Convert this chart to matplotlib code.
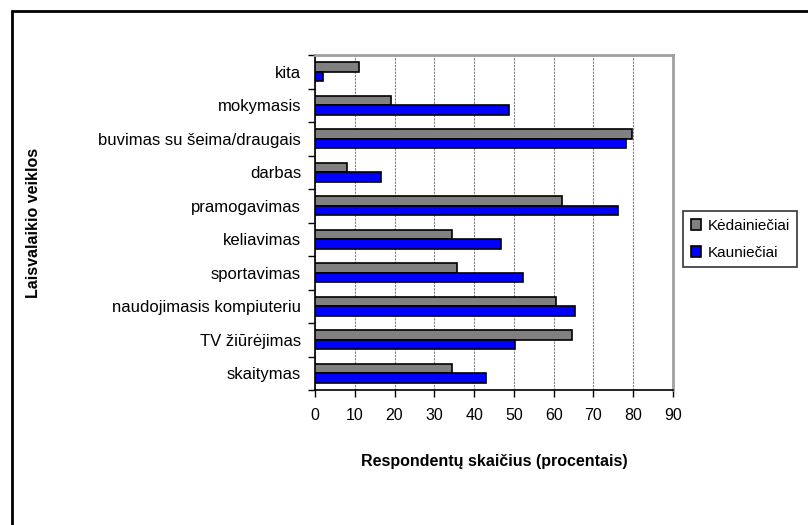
import numpy as np
import matplotlib
matplotlib.use('Agg')
import matplotlib.pyplot as plt
from matplotlib.patches import Rectangle

plt.rcParams['font.family'] = ['Liberation Sans', 'DejaVu Sans']

categories = ['kita', 'mokymasis', 'buvimas su šeima/draugais', 'darbas', 'pramogavimas',
              'keliavimas', 'sportavimas', 'naudojimasis kompiuteriu', 'TV žiūrėjimas', 'skaitymas']
kedainieciai = [11.1, 19.2, 79.8, 8.1, 62.0, 34.5, 35.7, 60.5, 64.6, 34.5]
kaunieciai = [2.0, 48.7, 78.3, 16.7, 76.2, 46.7, 52.3, 65.3, 50.3, 43.0]
xticks = list(range(0, 100, 10))

fig = plt.figure(figsize=(8.08, 5.25), dpi=100)
ax = fig.add_axes([315/808, 1-390/525, (673-315)/808, (390-55)/525])

n = len(categories)
y = np.arange(n)[::-1]  # kita at top
h = 0.28
ax.barh(y + h/2, kedainieciai, height=h, color='#808080', edgecolor='black', linewidth=1.2,
        label='Kėdainiečiai', zorder=3)
ax.barh(y - h/2, kaunieciai, height=h, color='#0000ff', edgecolor='black', linewidth=1.2,
        label='Kauniečiai', zorder=3)

fs = 11.5
ax.set_xlim(0, 90)
ax.set_ylim(-0.5, n - 0.5)
ax.set_xticks(xticks)
ax.set_xticklabels([str(v) for v in xticks], fontsize=fs)
ax.set_yticks(y)
ax.set_yticklabels(categories, fontsize=12)
ax.tick_params(axis='y', length=0, pad=10)
ax.set_yticks(np.arange(-0.5, n, 1), minor=True)
ax.tick_params(axis='y', which='minor', length=5, width=1, direction='out')
ax.tick_params(axis='x', length=5, width=1, direction='out', pad=8)

ax.grid(axis='x', color='#808080', linestyle=(0, (2, 1)), linewidth=0.8, zorder=0)
for s in ['top', 'right']:
    ax.spines[s].set_color('#a0a0a0')
    ax.spines[s].set_linewidth(2)
for s in ['left', 'bottom']:
    ax.spines[s].set_color('black')
    ax.spines[s].set_linewidth(1.2)

ax.set_xlabel('Respondentų skaičius (procentais)', fontsize=fs, fontweight='bold', labelpad=22)
ax.set_ylabel('Laisvalaikio veiklos', fontsize=fs, fontweight='bold')
ax.yaxis.set_label_coords(-0.765, 0.5)

leg = ax.legend(loc='center left', bbox_to_anchor=(1.028, 0.45), fontsize=11, frameon=True,
                fancybox=False, edgecolor='black', handlelength=0.7, handleheight=0.7,
                handletextpad=0.4, borderpad=0.5, labelspacing=0.85, borderaxespad=0)
leg.get_frame().set_linewidth(1.2)

# outer chart border (top and left visible)
fig.patches.append(Rectangle((12/808, -0.1), 1.2, 1 - 11/525 + 0.1, transform=fig.transFigure,
                             fill=False, edgecolor='black', linewidth=2))

fig.savefig('out.png', dpi=100)
